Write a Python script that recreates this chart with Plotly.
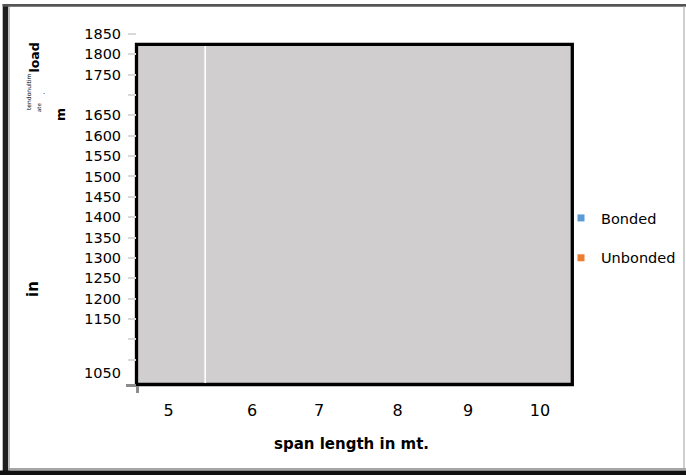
import plotly.graph_objects as go

# ---- data ----
series_names = ["Bonded", "Unbonded"]
series_colors = ["#5b9bd5", "#ed7d31"]
span_lengths = ["5", "6", "7", "8", "9", "10"]
span_tick_pos = [4.878, 6.014, 6.925, 7.993, 8.952, 9.932]
bonded_load = [None, None, None, None, None, None]
unbonded_load = [None, None, None, None, None, None]
y_tick_vals = list(range(1050, 1851, 50))
y_tick_hidden = [1700, 1100, 1050]
y_tick_text = ["" if v in y_tick_hidden else str(v) for v in y_tick_vals]

W, H = 686, 475
L, R, T, B = 137, 573, 34, 380
PW, PH = R - L, B - T

def px(x):
    return (x - L) / PW

def py(y):
    return (B - y) / PH

FONT = "DejaVu Sans"

fig = go.Figure()
for name, col, vals in zip(series_names, series_colors, [bonded_load, unbonded_load]):
    fig.add_trace(go.Scatter(
        x=span_tick_pos, y=vals, name=name, mode="markers",
        marker=dict(symbol="square", size=7, color=col),
        legendgroup=name, showlegend=True,
    ))

shapes = []
shapes.append(dict(type="rect", xref="paper", yref="paper",
                   x0=px(136.5), x1=px(572.3), y0=py(384.5), y1=py(44.3),
                   fillcolor="#d0cece", line=dict(color="black", width=3.3),
                   layer="below"))
shapes.append(dict(type="line", xref="paper", yref="paper",
                   x0=px(205.2), x1=px(205.2), y0=py(383), y1=py(46),
                   line=dict(color="white", width=1.7), layer="above"))
shapes.append(dict(type="line", xref="paper", yref="paper",
                   x0=px(126), x1=px(136), y0=py(385.5), y1=py(385.5),
                   line=dict(color="#8c8c8c", width=3), layer="above"))
shapes.append(dict(type="line", xref="paper", yref="paper",
                   x0=px(137.5), x1=px(137.5), y0=py(386), y1=py(393),
                   line=dict(color="#8c8c8c", width=3), layer="above"))
# outer frame
shapes.append(dict(type="rect", xref="paper", yref="paper",
                   x0=px(2.7), x1=px(8.3), y0=py(475), y1=py(4),
                   fillcolor="#1e1e1e", line=dict(width=0), layer="above"))
shapes.append(dict(type="rect", xref="paper", yref="paper",
                   x0=px(8.3), x1=px(10), y0=py(475), y1=py(7),
                   fillcolor="#bdbdbd", line=dict(width=0), layer="above"))
shapes.append(dict(type="rect", xref="paper", yref="paper",
                   x0=px(2.7), x1=px(686), y0=py(6.7), y1=py(4),
                   fillcolor="#555555", line=dict(width=0), layer="above"))
shapes.append(dict(type="rect", xref="paper", yref="paper",
                   x0=px(683), x1=px(685), y0=py(470), y1=py(6.7),
                   fillcolor="#cfcfcf", line=dict(width=0), layer="above"))
shapes.append(dict(type="rect", xref="paper", yref="paper",
                   x0=px(8), x1=px(686), y0=py(470), y1=py(468),
                   fillcolor="#a6a6a6", line=dict(width=0), layer="above"))
shapes.append(dict(type="rect", xref="paper", yref="paper",
                   x0=px(0), x1=px(686), y0=py(475), y1=py(470.5),
                   fillcolor="#111111", line=dict(width=0), layer="above"))

ann = []
def add_text(text, x, y, size, bold=False, angle=0, xanchor="center", color="black"):
    ann.append(dict(text=("<b>%s</b>" % text) if bold else text,
                    xref="paper", yref="paper", x=px(x), y=py(y),
                    xanchor=xanchor, yanchor="middle", showarrow=False,
                    textangle=angle, font=dict(family=FONT, size=size, color=color)))

add_text("1050", 123, 373, 14.5, xanchor="right")
add_text("span length in mt.", 351, 444, 15, bold=True)
# fragmented y-axis title
add_text("load", 34, 57.5, 12.5, bold=True, angle=-90)
add_text("tendonultim", 28, 92, 6, angle=-90)
add_text("ate", 39, 107, 5.5, angle=-90)
add_text(".", 44, 92, 7)
add_text("m", 60, 115, 12.5, bold=True, angle=-90)
add_text("in", 33, 289, 15, bold=True, angle=-90)

fig.update_layout(
    width=W, height=H,
    margin=dict(l=L, r=W - R, t=T, b=H - B, pad=0, autoexpand=False),
    paper_bgcolor="white", plot_bgcolor="rgba(0,0,0,0)",
    font=dict(family=FONT, color="black"),
    shapes=shapes, annotations=ann,
    showlegend=True,
    legend=dict(x=px(561), y=py(202), xanchor="left", yanchor="top",
                font=dict(family=FONT, size=14.5), tracegroupgap=18,
                bgcolor="rgba(0,0,0,0)", itemsizing="trace"),
    xaxis=dict(range=[4.449, 10.381], tickvals=span_tick_pos, ticktext=span_lengths,
               showgrid=False, zeroline=False, showline=False,
               ticks="outside", ticklen=16, tickcolor="rgba(0,0,0,0)",
               tickfont=dict(family=FONT, size=16), fixedrange=True),
    yaxis=dict(range=[1000, 1850], tickvals=y_tick_vals, ticktext=y_tick_text,
               showgrid=False, zeroline=False, showline=False,
               ticks="outside", ticklen=8, tickcolor="#d9d9d9", tickwidth=1.5,
               ticklabelstandoff=4,
               tickfont=dict(family=FONT, size=14.5), fixedrange=True),
)

fig.write_html("out.html", config={"displayModeBar": False},
               post_script="document.body.style.margin='0';document.body.style.overflow='hidden';")
